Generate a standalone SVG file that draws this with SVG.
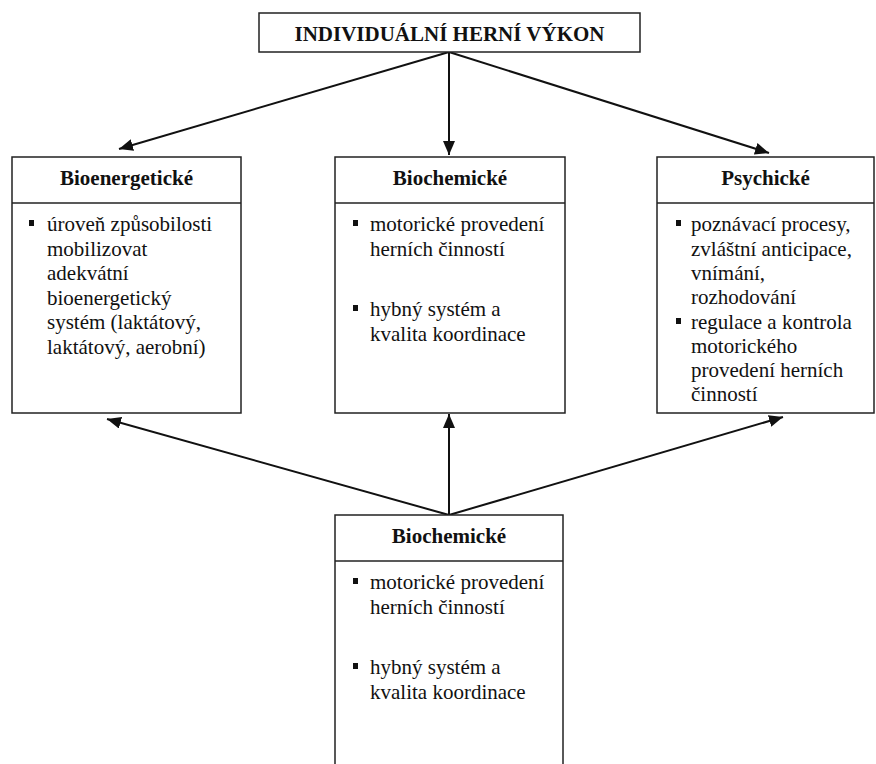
<svg xmlns="http://www.w3.org/2000/svg" width="876" height="764" viewBox="0 0 876 764">
<style>
.box{fill:#fff;stroke:#222;stroke-width:1.5}
.div{stroke:#222;stroke-width:1.5}
.title{font-family:"Liberation Serif","Times New Roman",serif;font-weight:bold;font-size:21px;fill:#111;text-anchor:middle}
.hd{font-family:"Liberation Serif","Times New Roman",serif;font-weight:bold;font-size:21px;fill:#111;text-anchor:middle}
.tx{font-family:"Liberation Serif","Times New Roman",serif;font-size:21px;fill:#111}
.bul{fill:#111}
.con{stroke:#111;stroke-width:2;fill:none;marker-end:url(#ah)}
</style>
<defs>
<marker id="ah" markerUnits="userSpaceOnUse" viewBox="0 0 14 12" refX="14" refY="6" markerWidth="14" markerHeight="12" orient="auto">
<path d="M0,0 L14,6 L0,12 Z" fill="#111"/>
</marker>
</defs>
<rect width="876" height="764" fill="#fff"/>
<g id="connectors">
<line class="con" x1="449" y1="52" x2="119" y2="149"/>
<line class="con" x1="449" y1="52" x2="449" y2="155"/>
<line class="con" x1="449" y1="52" x2="769" y2="153"/>
<line class="con" x1="449" y1="515" x2="107" y2="419"/>
<line class="con" x1="449" y1="515" x2="449" y2="414"/>
<line class="con" x1="449" y1="515" x2="783" y2="417"/>
</g>
<g id="top">
<rect class="box" x="259" y="13" width="381" height="39"/>
<text class="title" x="449.5" y="41">INDIVIDUÁLNÍ HERNÍ VÝKON</text>
</g>
<g id="bioenergeticke">
<rect class="box" x="12" y="157" width="229" height="256"/>
<line class="div" x1="12" y1="203" x2="241" y2="203"/>
<text class="hd" x="126.5" y="185">Bioenergetické</text>
<rect class="bul" x="29" y="220" width="5" height="6"/>
<text class="tx" x="47" y="231">úroveň způsobilosti</text>
<text class="tx" x="47" y="255.5">mobilizovat</text>
<text class="tx" x="47" y="280">adekvátní</text>
<text class="tx" x="47" y="304.5">bioenergetický</text>
<text class="tx" x="47" y="329">systém (laktátový,</text>
<text class="tx" x="47" y="353.5">laktátový, aerobní)</text>
</g>
<g id="biochemicke1">
<rect class="box" x="335" y="157" width="230" height="256"/>
<line class="div" x1="335" y1="203" x2="565" y2="203"/>
<text class="hd" x="450" y="185">Biochemické</text>
<rect class="bul" x="353" y="220" width="5" height="6"/>
<text class="tx" x="370" y="231">motorické provedení</text>
<text class="tx" x="370" y="256">herních činností</text>
<rect class="bul" x="353" y="305" width="5" height="6"/>
<text class="tx" x="370" y="316">hybný systém a</text>
<text class="tx" x="370" y="341">kvalita koordinace</text>
</g>
<g id="psychicke">
<rect class="box" x="657" y="157" width="217" height="256"/>
<line class="div" x1="657" y1="203" x2="874" y2="203"/>
<text class="hd" x="765.5" y="185">Psychické</text>
<rect class="bul" x="676" y="220" width="5" height="6"/>
<text class="tx" x="691" y="231">poznávací procesy,</text>
<text class="tx" x="691" y="255.5">zvláštní anticipace,</text>
<text class="tx" x="691" y="280">vnímání,</text>
<text class="tx" x="691" y="304">rozhodování</text>
<rect class="bul" x="676" y="318" width="5" height="6"/>
<text class="tx" x="691" y="328.5">regulace a kontrola</text>
<text class="tx" x="691" y="353">motorického</text>
<text class="tx" x="691" y="377">provedení herních</text>
<text class="tx" x="691" y="401">činností</text>
</g>
<g id="biochemicke2">
<rect class="box" x="335" y="515" width="228" height="260"/>
<line class="div" x1="335" y1="561" x2="563" y2="561"/>
<text class="hd" x="449" y="543">Biochemické</text>
<rect class="bul" x="353" y="578" width="5" height="6"/>
<text class="tx" x="370" y="589">motorické provedení</text>
<text class="tx" x="370" y="614">herních činností</text>
<rect class="bul" x="353" y="663" width="5" height="6"/>
<text class="tx" x="370" y="674">hybný systém a</text>
<text class="tx" x="370" y="699">kvalita koordinace</text>
</g>
</svg>
